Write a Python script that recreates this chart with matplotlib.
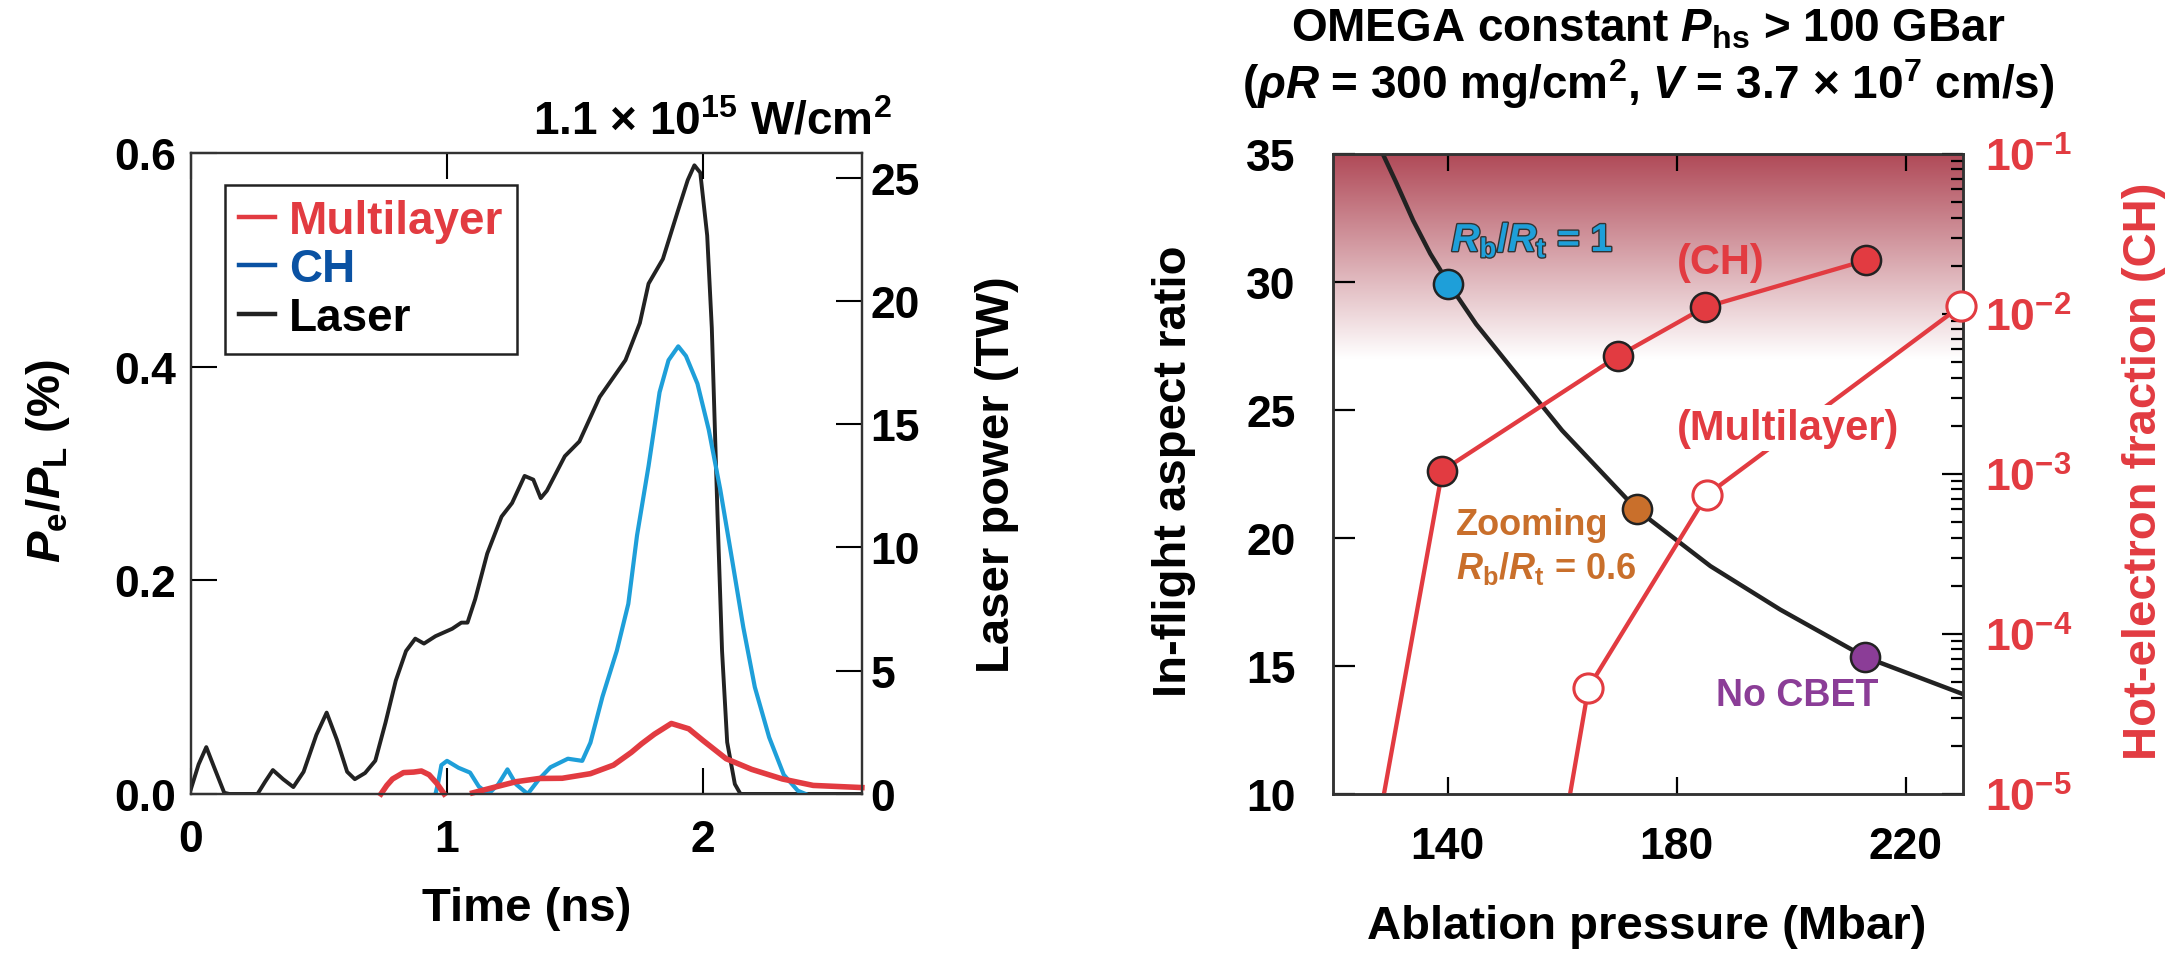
import numpy as np
import matplotlib
matplotlib.use("Agg")
import matplotlib.pyplot as plt
from matplotlib.lines import Line2D
from matplotlib.colors import LinearSegmentedColormap
from matplotlib.ticker import LogLocator, NullFormatter
import matplotlib.patheffects as pe

plt.rcParams['font.family'] = ['Liberation Sans', 'DejaVu Sans']
plt.rcParams['font.weight'] = 'bold'
plt.rcParams['axes.labelweight'] = 'bold'
plt.rcParams['mathtext.fontset'] = 'custom'
plt.rcParams['mathtext.rm'] = 'Liberation Sans:bold'
plt.rcParams['mathtext.it'] = 'Liberation Sans:italic:bold'
plt.rcParams['mathtext.bf'] = 'Liberation Sans:bold'

# ---- left panel data (time in ns) ----
t_laser = [0.0, 0.03, 0.06, 0.09, 0.13, 0.15, 0.26, 0.29, 0.32, 0.36, 0.40, 0.44, 0.49,
           0.53, 0.57, 0.61, 0.64, 0.68, 0.72, 0.76, 0.80, 0.84, 0.876, 0.91, 0.955,
           1.02, 1.056, 1.08, 1.11, 1.157, 1.213, 1.254, 1.303, 1.337, 1.366, 1.39,
           1.46, 1.517, 1.596, 1.697, 1.753, 1.787, 1.843, 1.90, 1.94, 1.966, 1.989,
           2.016, 2.034, 2.056, 2.074, 2.094, 2.124, 2.146, 2.62]
p_laser = [0.2, 1.2, 1.9, 1.1, 0.05, 0.0, 0.0, 0.5, 0.97, 0.6, 0.28, 0.9, 2.4,
           3.3, 2.2, 0.9, 0.6, 0.85, 1.35, 2.9, 4.6, 5.8, 6.3, 6.1, 6.4,
           6.7, 6.95, 6.95, 7.9, 9.75, 11.25, 11.8, 12.9, 12.75, 12.0, 12.3,
           13.7, 14.3, 16.1, 17.6, 19.1, 20.7, 21.7, 23.6, 24.9, 25.5, 25.2,
           22.65, 18.9, 11.4, 5.8, 2.1, 0.4, 0.0, 0.0]

t_ch = [0.955, 0.965, 0.978, 1.0, 1.045, 1.09, 1.124, 1.162, 1.2, 1.236, 1.27, 1.315,
        1.36, 1.404, 1.472, 1.528, 1.56, 1.607, 1.663, 1.708, 1.742, 1.787, 1.83,
        1.865, 1.903, 1.933, 1.978, 2.022, 2.067, 2.112, 2.157, 2.202, 2.258, 2.315,
        2.37, 2.40]
f_ch = [0.0, 0.01, 0.027, 0.031, 0.0245, 0.02, 0.007, 0.0, 0.009, 0.023, 0.009, 0.0,
        0.014, 0.025, 0.033, 0.031, 0.048, 0.091, 0.134, 0.178, 0.242, 0.307, 0.376,
        0.406, 0.419, 0.41, 0.384, 0.341, 0.285, 0.221, 0.156, 0.1, 0.053, 0.018,
        0.003, 0.0]

t_ml = [0.742, 0.765, 0.787, 0.83, 0.87, 0.9, 0.93, 0.96, 0.989, np.nan,
        1.10, 1.18, 1.27, 1.36, 1.45, 1.56, 1.65, 1.72, 1.76, 1.81, 1.876, 1.944,
        2.0, 2.09, 2.19, 2.31, 2.43, 2.62]
f_ml = [0.0, 0.008, 0.014, 0.02, 0.0205, 0.0215, 0.018, 0.01, 0.0, np.nan,
        0.001, 0.006, 0.0115, 0.0145, 0.0147, 0.019, 0.027, 0.039, 0.047, 0.056,
        0.066, 0.061, 0.05, 0.033, 0.023, 0.014, 0.008, 0.006]

# ---- right panel data (ablation pressure in Mbar) ----
p_ar = [128.7, 131, 134, 137, 140.3, 145, 151.3, 160, 173.1, 185.9, 198.1, 212.9, 230]
ar_curve = [35.0, 33.9, 32.4, 31.1, 29.9, 28.35, 26.6, 24.2, 21.1, 18.9, 17.2, 15.35, 13.9]

p_pts = [140.1, 173.1, 212.9]
ar_pts = [29.9, 21.13, 15.35]
pt_colors = ['#1e9fd9', '#c96f2b', '#8b3d97']

p_hot_ch = [128.9, 139.1, 169.8, 184.9, 213.0]
f_hot_ch = [1e-5, 1.05e-3, 5.46e-3, 1.1e-2, 2.16e-2]
p_hot_ml = [161.4, 164.6, 185.3, 229.6]
f_hot_ml = [1e-5, 4.6e-5, 7.4e-4, 1.12e-2]

RED = '#e23b41'
BLUE = '#1e9fd9'
DKBLUE = '#0a52a3'
BLACK = '#222222'
ORANGE = '#c96f2b'
PURPLE = '#8b3d97'

fig = plt.figure(figsize=(21.77, 9.54), dpi=100)

# ================= left panel =================
ax1 = fig.add_axes([0.0877, 0.1667, 0.3082, 0.6719])
ax1r = ax1.twinx()
ax1.set_zorder(ax1r.get_zorder() + 1)
ax1.patch.set_visible(False)

ax1r.plot(t_laser, p_laser, color=BLACK, lw=2.8, solid_joinstyle='round')
ax1.plot(t_ch, f_ch, color=BLUE, lw=3.0, solid_joinstyle='round')
ax1.plot(t_ml, f_ml, color=RED, lw=4.0, solid_joinstyle='round', clip_on=False)

ax1.set_xlim(0, 2.62)
ax1.set_ylim(0, 0.6)
ax1r.set_ylim(0, 26)
ax1.set_xticks([0, 1, 2])
ax1.set_xticklabels(['0', '1', '2'])
ax1.set_yticks([0, 0.2, 0.4, 0.6])
ax1.set_yticklabels(['0.0', '0.2', '0.4', '0.6'])
ax1r.set_yticks([0, 5, 10, 15, 20, 25])

ax1.tick_params(axis='x', direction='in', top=True, length=19, width=1.5,
                labelsize=32, pad=18)
ax1.tick_params(axis='y', direction='in', length=19, width=1.5, labelsize=32, pad=11)
ax1r.tick_params(axis='y', direction='in', length=19, width=1.5, labelsize=32, pad=6)
for a in (ax1, ax1r):
    for s in a.spines.values():
        s.set_linewidth(1.6)
        s.set_color('#333333')

ax1.set_xlabel('Time (ns)', fontsize=34)
ax1.xaxis.set_label_coords(0.5, -0.143)
ax1.set_ylabel(r'$P_{\mathrm{e}}/P_{\mathrm{L}}$ (%)', fontsize=34)
ax1.yaxis.set_label_coords(-0.177, 0.52)
ax1r.set_ylabel('Laser power (TW)', fontsize=34)
ax1r.yaxis.set_label_coords(1.168, 0.5)

ax1.text(1.045, 1.03, r'1.1 × 10$^{\mathrm{15}}$ W/cm$^{\mathrm{2}}$', fontsize=33,
         ha='right', va='baseline', transform=ax1.transAxes)

handles = [Line2D([], [], color=RED, lw=3.2),
           Line2D([], [], color=DKBLUE, lw=3.2),
           Line2D([], [], color=BLACK, lw=3.2)]
leg = ax1.legend(handles, ['Multilayer', 'CH', 'Laser'], loc='upper left',
                 bbox_to_anchor=(0.0507, 0.950), borderaxespad=0, fontsize=33,
                 handlelength=0.8, handletextpad=0.3, borderpad=0.3,
                 labelspacing=0.1, fancybox=False, framealpha=1)
leg.get_frame().set_edgecolor(BLACK)
leg.get_frame().set_linewidth(1.8)
for txt, c in zip(leg.get_texts(), [RED, DKBLUE, 'black']):
    txt.set_color(c)

# ================= right panel =================
ax2 = fig.add_axes([0.6123, 0.1667, 0.2894, 0.6709])
ax2r = ax2.twinx()

ax2.set_xlim(120, 230)
ax2.set_ylim(10, 35)
ax2r.set_yscale('log')
ax2r.set_ylim(1e-5, 1e-1)

shade = LinearSegmentedColormap.from_list('shade', ['#ffffff', '#b04a58'])
grad = np.linspace(0, 1, 256).reshape(-1, 1)
ax2.imshow(grad, extent=[120, 230, 27.0, 35], origin='lower', aspect='auto',
           cmap=shade, zorder=0, interpolation='bicubic')

ax2.plot(p_ar, ar_curve, color=BLACK, lw=3.2, zorder=2)
for x, y, c in zip(p_pts, ar_pts, pt_colors):
    ax2.plot(x, y, 'o', ms=21, mfc=c, mec=BLACK, mew=1.8, zorder=3)

ax2r.plot(p_hot_ch, f_hot_ch, color=RED, lw=3.1, zorder=2)
ax2r.plot(p_hot_ch[1:], f_hot_ch[1:], 'o', ms=21, mfc=RED, mec=BLACK, mew=1.8,
          zorder=3)
ax2r.plot(p_hot_ml, f_hot_ml, color=RED, lw=3.1, zorder=2)
ax2r.plot(p_hot_ml[1:], f_hot_ml[1:], 'o', ms=21, mfc='white', mec=RED, mew=2.2,
          zorder=3, clip_on=False)

ax2.set_xticks([140, 180, 220])
ax2.set_yticks([10, 15, 20, 25, 30, 35])
ax2.tick_params(axis='x', direction='in', top=True, length=12.5, width=1.6,
                labelsize=32, pad=23)
ax2.tick_params(axis='y', direction='in', length=16, width=1.6, labelsize=32, pad=27)

ax2r.set_yticks([1e-5, 1e-4, 1e-3, 1e-2, 1e-1])
ax2r.set_yticklabels([r'10$^{-5}$', r'10$^{-4}$', r'10$^{-3}$', r'10$^{-2}$',
                      r'10$^{-1}$'])
ax2r.yaxis.set_minor_locator(LogLocator(base=10, subs=range(2, 10), numticks=20))
ax2r.yaxis.set_minor_formatter(NullFormatter())
ax2r.tick_params(axis='y', which='major', direction='in', length=15, width=1.6,
                 labelsize=32, pad=16, labelcolor=RED)
ax2r.tick_params(axis='y', which='minor', direction='in', length=9, width=1.6)
for a in (ax2, ax2r):
    for s in a.spines.values():
        s.set_linewidth(1.8)
        s.set_color('#333333')

ax2.set_xlabel('Ablation pressure (Mbar)', fontsize=34)
ax2.xaxis.set_label_coords(0.498, -0.172)
ax2.set_ylabel('In-flight aspect ratio', fontsize=34)
ax2.yaxis.set_label_coords(-0.217, 0.506)
ax2r.set_ylabel('Hot-electron fraction (CH)', fontsize=34, color=RED)
ax2r.yaxis.set_label_coords(1.252, 0.506)

# annotations (in ablation pressure / aspect ratio coordinates)
ax2r.text(140.7, 31.2, r'$R_{\mathrm{b}}/R_{\mathrm{t}}$ = 1', fontsize=28, color=BLUE,
          ha='left', va='baseline', transform=ax2.transData, zorder=5,
          path_effects=[pe.Stroke(linewidth=2, foreground='#333333'), pe.Normal()])
ax2r.text(180.1, 30.35, '(CH)', fontsize=30, color=RED, ha='left', va='baseline',
          transform=ax2.transData, zorder=5)
ax2r.text(180.1, 23.87, '(Multilayer)', fontsize=30, color=RED, ha='left',
          va='baseline', transform=ax2.transData, zorder=5,
          bbox=dict(facecolor='white', edgecolor='none', pad=2))
ax2r.text(141.5, 20.16, 'Zooming', fontsize=26, color=ORANGE, ha='left',
          va='baseline', transform=ax2.transData, zorder=5)
ax2r.text(141.5, 18.44, r'$R_{\mathrm{b}}/R_{\mathrm{t}}$ = 0.6', fontsize=26,
          color=ORANGE, ha='left', va='baseline', transform=ax2.transData, zorder=5)
ax2r.text(186.8, 13.48, 'No CBET', fontsize=27, color=PURPLE, ha='left',
          va='baseline', transform=ax2.transData, zorder=5)

fig.text(0.757, 0.9686, r'OMEGA constant $P_{\mathrm{hs}}$ > 100 GBar', fontsize=33,
         ha='center', va='center')
fig.text(0.757, 0.912, r'($\rho R$ = 300 mg/cm$^{\mathrm{2}}$, $V$ = 3.7 × 10$^{\mathrm{7}}$ cm/s)',
         fontsize=33, ha='center', va='center')

fig.savefig('out.png', dpi=100)
